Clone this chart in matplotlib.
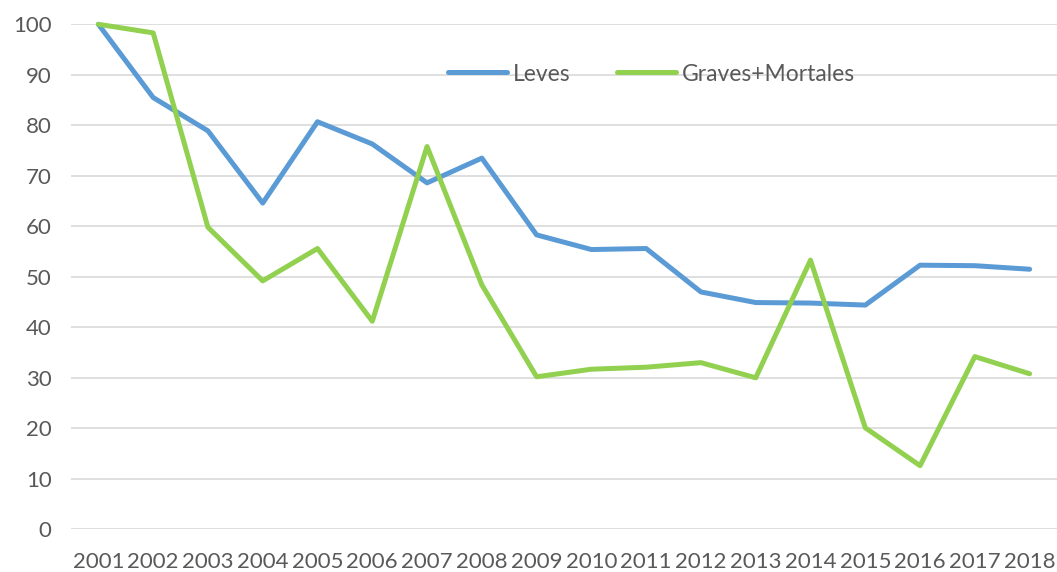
import matplotlib
matplotlib.use("Agg")
import matplotlib.pyplot as plt

years = ["2001", "2002", "2003", "2004", "2005", "2006", "2007", "2008", "2009",
         "2010", "2011", "2012", "2013", "2014", "2015", "2016", "2017", "2018"]
leves = [100, 85.5, 78.9, 64.6, 80.7, 76.3, 68.6, 73.5, 58.3,
         55.4, 55.6, 47.0, 44.9, 44.8, 44.4, 52.3, 52.2, 51.5]
graves = [100, 98.3, 59.8, 49.2, 55.6, 41.2, 75.8, 48.4, 30.2,
          31.7, 32.1, 33.0, 30.0, 53.3, 20.1, 12.6, 34.2, 30.8]
yticks = [0, 10, 20, 30, 40, 50, 60, 70, 80, 90, 100]

plt.rcParams['font.family'] = ['Lato', 'DejaVu Sans']

fig = plt.figure(figsize=(10.57, 5.72), dpi=100)
ax = fig.add_axes([71/1057, 42.7/572, 1 - 71/1057, (529.3 - 24.3)/572])

x = list(range(len(years)))
ax.plot(x, leves, color="#5B9BD5", lw=3.6, label="Leves", clip_on=False,
        solid_joinstyle="round", solid_capstyle="round", zorder=3)
ax.plot(x, graves, color="#92D050", lw=3.6, label="Graves+Mortales", clip_on=False,
        solid_joinstyle="round", solid_capstyle="round", zorder=3)

ax.set_xlim(-0.5, len(years) - 0.5)
ax.set_ylim(0, 100)
ax.set_yticks(yticks)
ax.set_xticks(x)
ax.set_xticklabels(years)
ax.grid(axis="y", color="#D9D9D9", lw=1.2, zorder=0)
ax.set_axisbelow(True)
for s in ax.spines.values():
    s.set_visible(False)
ax.tick_params(axis="y", length=0, labelsize=16, labelcolor="#595959", pad=14)
ax.tick_params(axis="x", length=0, labelsize=16, labelcolor="#595959", pad=16)

leg = ax.legend(loc="center", frameon=False, ncol=2,
                fontsize=16.5, handlelength=2.6, handletextpad=0.25, columnspacing=2.0,
                labelcolor="#595959")
cx = (451 + 852) / 2
ax_left = 71
ax_w = 1057 - 71
leg.set_bbox_to_anchor(((cx - ax_left) / ax_w, (529.3 - 74) / 505), transform=ax.transAxes)

fig.savefig("out.png", dpi=100)
